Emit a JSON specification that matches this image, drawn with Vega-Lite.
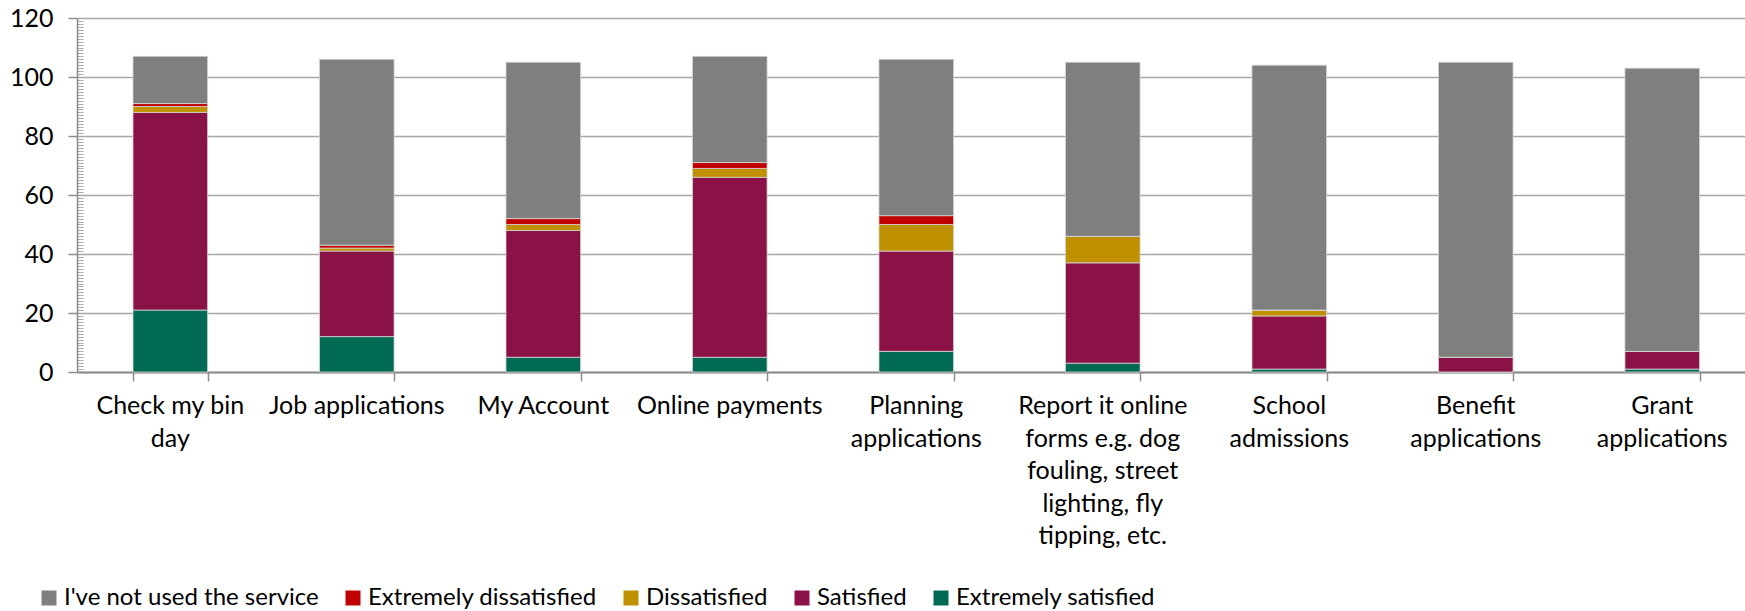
{
  "$schema": "https://vega.github.io/schema/vega-lite/v6.json",
  "width": 1668,
  "height": 354,
  "autosize": {"type": "none"},
  "padding": {"left": 77, "top": 18, "right": 0, "bottom": 239},
  "background": "white",
  "config": {
    "view": {"stroke": null},
    "font": "Lato",
    "axis": {"labelFont": "Lato", "labelColor": "#000000"},
    "legend": {"labelFont": "Lato"}
  },
  "datasets": {
    "survey": [
      {"service": "Check my bin day", "status": "Extremely satisfied", "value": 21},
      {"service": "Check my bin day", "status": "Satisfied", "value": 67},
      {"service": "Check my bin day", "status": "Dissatisfied", "value": 2},
      {"service": "Check my bin day", "status": "Extremely dissatisfied", "value": 1},
      {"service": "Check my bin day", "status": "I've not used the service", "value": 16},
      {"service": "Job applications", "status": "Extremely satisfied", "value": 12},
      {"service": "Job applications", "status": "Satisfied", "value": 29},
      {"service": "Job applications", "status": "Dissatisfied", "value": 1},
      {"service": "Job applications", "status": "Extremely dissatisfied", "value": 1},
      {"service": "Job applications", "status": "I've not used the service", "value": 63},
      {"service": "My Account", "status": "Extremely satisfied", "value": 5},
      {"service": "My Account", "status": "Satisfied", "value": 43},
      {"service": "My Account", "status": "Dissatisfied", "value": 2},
      {"service": "My Account", "status": "Extremely dissatisfied", "value": 2},
      {"service": "My Account", "status": "I've not used the service", "value": 53},
      {"service": "Online payments", "status": "Extremely satisfied", "value": 5},
      {"service": "Online payments", "status": "Satisfied", "value": 61},
      {"service": "Online payments", "status": "Dissatisfied", "value": 3},
      {"service": "Online payments", "status": "Extremely dissatisfied", "value": 2},
      {"service": "Online payments", "status": "I've not used the service", "value": 36},
      {"service": "Planning applications", "status": "Extremely satisfied", "value": 7},
      {"service": "Planning applications", "status": "Satisfied", "value": 34},
      {"service": "Planning applications", "status": "Dissatisfied", "value": 9},
      {"service": "Planning applications", "status": "Extremely dissatisfied", "value": 3},
      {"service": "Planning applications", "status": "I've not used the service", "value": 53},
      {"service": "Report it online forms e.g. dog fouling, street lighting, fly tipping, etc.", "status": "Extremely satisfied", "value": 3},
      {"service": "Report it online forms e.g. dog fouling, street lighting, fly tipping, etc.", "status": "Satisfied", "value": 34},
      {"service": "Report it online forms e.g. dog fouling, street lighting, fly tipping, etc.", "status": "Dissatisfied", "value": 9},
      {"service": "Report it online forms e.g. dog fouling, street lighting, fly tipping, etc.", "status": "Extremely dissatisfied", "value": 0},
      {"service": "Report it online forms e.g. dog fouling, street lighting, fly tipping, etc.", "status": "I've not used the service", "value": 59},
      {"service": "School admissions", "status": "Extremely satisfied", "value": 1},
      {"service": "School admissions", "status": "Satisfied", "value": 18},
      {"service": "School admissions", "status": "Dissatisfied", "value": 2},
      {"service": "School admissions", "status": "Extremely dissatisfied", "value": 0},
      {"service": "School admissions", "status": "I've not used the service", "value": 83},
      {"service": "Benefit applications", "status": "Extremely satisfied", "value": 0},
      {"service": "Benefit applications", "status": "Satisfied", "value": 5},
      {"service": "Benefit applications", "status": "Dissatisfied", "value": 0},
      {"service": "Benefit applications", "status": "Extremely dissatisfied", "value": 0},
      {"service": "Benefit applications", "status": "I've not used the service", "value": 100},
      {"service": "Grant applications", "status": "Extremely satisfied", "value": 1},
      {"service": "Grant applications", "status": "Satisfied", "value": 6},
      {"service": "Grant applications", "status": "Dissatisfied", "value": 0},
      {"service": "Grant applications", "status": "Extremely dissatisfied", "value": 0},
      {"service": "Grant applications", "status": "I've not used the service", "value": 96}
    ],
    "labels": [
      {"service": "Check my bin day", "line": 1, "text": "Check my bin"},
      {"service": "Check my bin day", "line": 2, "text": "day"},
      {"service": "Job applications", "line": 1, "text": "Job applications"},
      {"service": "My Account", "line": 1, "text": "My Account"},
      {"service": "Online payments", "line": 1, "text": "Online payments"},
      {"service": "Planning applications", "line": 1, "text": "Planning"},
      {"service": "Planning applications", "line": 2, "text": "applications"},
      {"service": "Report it online forms e.g. dog fouling, street lighting, fly tipping, etc.", "line": 1, "text": "Report it online"},
      {"service": "Report it online forms e.g. dog fouling, street lighting, fly tipping, etc.", "line": 2, "text": "forms e.g. dog"},
      {"service": "Report it online forms e.g. dog fouling, street lighting, fly tipping, etc.", "line": 3, "text": "fouling, street"},
      {"service": "Report it online forms e.g. dog fouling, street lighting, fly tipping, etc.", "line": 4, "text": "lighting, fly"},
      {"service": "Report it online forms e.g. dog fouling, street lighting, fly tipping, etc.", "line": 5, "text": "tipping, etc."},
      {"service": "School admissions", "line": 1, "text": "School"},
      {"service": "School admissions", "line": 2, "text": "admissions"},
      {"service": "Benefit applications", "line": 1, "text": "Benefit"},
      {"service": "Benefit applications", "line": 2, "text": "applications"},
      {"service": "Grant applications", "line": 1, "text": "Grant"},
      {"service": "Grant applications", "line": 2, "text": "applications"}
    ]
  },
  "layer": [
    {
      "data": {"name": "survey"},
      "transform": [
        {"calculate": "indexof(['Extremely satisfied','Satisfied','Dissatisfied','Extremely dissatisfied',\"I've not used the service\"], datum.status)", "as": "stackOrder"}
      ],
      "mark": {"type": "bar", "stroke": "#d4d4d4", "strokeWidth": 0.8},
      "encoding": {
        "x": {"field": "service", "type": "nominal", "sort": null,
              "scale": {"domain": ["Check my bin day", "Job applications", "My Account", "Online payments", "Planning applications", "Report it online forms e.g. dog fouling, street lighting, fly tipping, etc.", "School admissions", "Benefit applications", "Grant applications"],
                        "paddingInner": 0.6, "paddingOuter": 0.272, "align": 0.552},
              "axis": {"title": null, "labels": false, "tickBand": "extent", "tickSize": 9, "tickColor": "#8c8c8c",
                       "tickWidth": 1.5, "domainColor": "#8c8c8c", "domainWidth": 2}},
        "y": {"field": "value", "type": "quantitative", "stack": "zero",
              "scale": {"domain": [0, 120], "nice": false},
              "axis": {"values": [0,1,2,3,4,5,6,7,8,9,10,11,12,13,14,15,16,17,18,19,20,21,22,23,24,25,26,27,28,29,30,31,32,33,34,35,36,37,38,39,40,41,42,43,44,45,46,47,48,49,50,51,52,53,54,55,56,57,58,59,60,61,62,63,64,65,66,67,68,69,70,71,72,73,74,75,76,77,78,79,80,81,82,83,84,85,86,87,88,89,90,91,92,93,94,95,96,97,98,99,100,101,102,103,104,105,106,107,108,109,110,111,112,113,114,115,116,117,118,119,120],
                       "title": null, "grid": true, "labelOverlap": false,
                       "gridColor": "#a6a6a6", "gridWidth": 1.5,
                       "gridOpacity": {"expr": "datum.value % 20 === 0 ? 1 : 0"},
                       "domainColor": "#8c8c8c", "domainWidth": 1.5,
                       "tickSize": {"expr": "datum.value % 20 === 0 ? 9 : -6"},
                       "tickColor": {"expr": "datum.value % 20 === 0 ? '#8c8c8c' : '#a8a8a8'"},
                       "tickWidth": {"expr": "datum.value % 20 === 0 ? 1.5 : 1"},
                       "labelExpr": "datum.value % 20 === 0 ? datum.label : ''",
                       "labelFontSize": 25, "labelPadding": 15}},
        "color": {"field": "status", "type": "nominal",
                  "scale": {"domain": ["I've not used the service", "Extremely dissatisfied", "Dissatisfied", "Satisfied", "Extremely satisfied"],
                            "range": ["#7f7f7f", "#c00000", "#bf9000", "#8b1246", "#006a54"]},
                  "legend": {"title": null, "orient": "none", "legendX": -40, "legendY": 568,
                             "direction": "horizontal", "columns": 5, "symbolType": "square",
                             "symbolSize": 225, "symbolStrokeWidth": 0, "labelFontSize": 24,
                             "labelOffset": 3, "columnPadding": 22, "labelLimit": 0, "padding": 0,
                             "labelColor": "#000000"}},
        "order": {"field": "stackOrder", "type": "quantitative"}
      }
    },
    {
      "data": {"name": "labels"},
      "transform": [{"filter": "datum.line == 1"}],
      "mark": {"type": "text", "font": "Lato", "fontSize": 25, "color": "#000000", "baseline": "alphabetic", "align": "center", "dy": 42, "clip": false},
      "encoding": {
        "x": {"field": "service", "type": "nominal", "sort": null},
        "y": {"datum": 0, "type": "quantitative",
              "axis": {"values": [0,1,2,3,4,5,6,7,8,9,10,11,12,13,14,15,16,17,18,19,20,21,22,23,24,25,26,27,28,29,30,31,32,33,34,35,36,37,38,39,40,41,42,43,44,45,46,47,48,49,50,51,52,53,54,55,56,57,58,59,60,61,62,63,64,65,66,67,68,69,70,71,72,73,74,75,76,77,78,79,80,81,82,83,84,85,86,87,88,89,90,91,92,93,94,95,96,97,98,99,100,101,102,103,104,105,106,107,108,109,110,111,112,113,114,115,116,117,118,119,120],
                       "title": null, "grid": true, "labelOverlap": false,
                       "gridColor": "#a6a6a6", "gridWidth": 1.5,
                       "gridOpacity": {"expr": "datum.value % 20 === 0 ? 1 : 0"},
                       "domainColor": "#8c8c8c", "domainWidth": 1.5,
                       "tickSize": {"expr": "datum.value % 20 === 0 ? 9 : -6"},
                       "tickColor": {"expr": "datum.value % 20 === 0 ? '#8c8c8c' : '#a8a8a8'"},
                       "tickWidth": {"expr": "datum.value % 20 === 0 ? 1.5 : 1"},
                       "labelExpr": "datum.value % 20 === 0 ? datum.label : ''",
                       "labelFontSize": 25, "labelPadding": 15}},
        "text": {"field": "text", "type": "nominal"}
      }
    },
    {
      "data": {"name": "labels"},
      "transform": [{"filter": "datum.line == 2"}],
      "mark": {"type": "text", "font": "Lato", "fontSize": 25, "color": "#000000", "baseline": "alphabetic", "align": "center", "dy": 74.5, "clip": false},
      "encoding": {
        "x": {"field": "service", "type": "nominal", "sort": null},
        "y": {"datum": 0, "type": "quantitative",
              "axis": {"values": [0,1,2,3,4,5,6,7,8,9,10,11,12,13,14,15,16,17,18,19,20,21,22,23,24,25,26,27,28,29,30,31,32,33,34,35,36,37,38,39,40,41,42,43,44,45,46,47,48,49,50,51,52,53,54,55,56,57,58,59,60,61,62,63,64,65,66,67,68,69,70,71,72,73,74,75,76,77,78,79,80,81,82,83,84,85,86,87,88,89,90,91,92,93,94,95,96,97,98,99,100,101,102,103,104,105,106,107,108,109,110,111,112,113,114,115,116,117,118,119,120],
                       "title": null, "grid": true, "labelOverlap": false,
                       "gridColor": "#a6a6a6", "gridWidth": 1.5,
                       "gridOpacity": {"expr": "datum.value % 20 === 0 ? 1 : 0"},
                       "domainColor": "#8c8c8c", "domainWidth": 1.5,
                       "tickSize": {"expr": "datum.value % 20 === 0 ? 9 : -6"},
                       "tickColor": {"expr": "datum.value % 20 === 0 ? '#8c8c8c' : '#a8a8a8'"},
                       "tickWidth": {"expr": "datum.value % 20 === 0 ? 1.5 : 1"},
                       "labelExpr": "datum.value % 20 === 0 ? datum.label : ''",
                       "labelFontSize": 25, "labelPadding": 15}},
        "text": {"field": "text", "type": "nominal"}
      }
    },
    {
      "data": {"name": "labels"},
      "transform": [{"filter": "datum.line == 3"}],
      "mark": {"type": "text", "font": "Lato", "fontSize": 25, "color": "#000000", "baseline": "alphabetic", "align": "center", "dy": 107, "clip": false},
      "encoding": {
        "x": {"field": "service", "type": "nominal", "sort": null},
        "y": {"datum": 0, "type": "quantitative",
              "axis": {"values": [0,1,2,3,4,5,6,7,8,9,10,11,12,13,14,15,16,17,18,19,20,21,22,23,24,25,26,27,28,29,30,31,32,33,34,35,36,37,38,39,40,41,42,43,44,45,46,47,48,49,50,51,52,53,54,55,56,57,58,59,60,61,62,63,64,65,66,67,68,69,70,71,72,73,74,75,76,77,78,79,80,81,82,83,84,85,86,87,88,89,90,91,92,93,94,95,96,97,98,99,100,101,102,103,104,105,106,107,108,109,110,111,112,113,114,115,116,117,118,119,120],
                       "title": null, "grid": true, "labelOverlap": false,
                       "gridColor": "#a6a6a6", "gridWidth": 1.5,
                       "gridOpacity": {"expr": "datum.value % 20 === 0 ? 1 : 0"},
                       "domainColor": "#8c8c8c", "domainWidth": 1.5,
                       "tickSize": {"expr": "datum.value % 20 === 0 ? 9 : -6"},
                       "tickColor": {"expr": "datum.value % 20 === 0 ? '#8c8c8c' : '#a8a8a8'"},
                       "tickWidth": {"expr": "datum.value % 20 === 0 ? 1.5 : 1"},
                       "labelExpr": "datum.value % 20 === 0 ? datum.label : ''",
                       "labelFontSize": 25, "labelPadding": 15}},
        "text": {"field": "text", "type": "nominal"}
      }
    },
    {
      "data": {"name": "labels"},
      "transform": [{"filter": "datum.line == 4"}],
      "mark": {"type": "text", "font": "Lato", "fontSize": 25, "color": "#000000", "baseline": "alphabetic", "align": "center", "dy": 139.5, "clip": false},
      "encoding": {
        "x": {"field": "service", "type": "nominal", "sort": null},
        "y": {"datum": 0, "type": "quantitative",
              "axis": {"values": [0,1,2,3,4,5,6,7,8,9,10,11,12,13,14,15,16,17,18,19,20,21,22,23,24,25,26,27,28,29,30,31,32,33,34,35,36,37,38,39,40,41,42,43,44,45,46,47,48,49,50,51,52,53,54,55,56,57,58,59,60,61,62,63,64,65,66,67,68,69,70,71,72,73,74,75,76,77,78,79,80,81,82,83,84,85,86,87,88,89,90,91,92,93,94,95,96,97,98,99,100,101,102,103,104,105,106,107,108,109,110,111,112,113,114,115,116,117,118,119,120],
                       "title": null, "grid": true, "labelOverlap": false,
                       "gridColor": "#a6a6a6", "gridWidth": 1.5,
                       "gridOpacity": {"expr": "datum.value % 20 === 0 ? 1 : 0"},
                       "domainColor": "#8c8c8c", "domainWidth": 1.5,
                       "tickSize": {"expr": "datum.value % 20 === 0 ? 9 : -6"},
                       "tickColor": {"expr": "datum.value % 20 === 0 ? '#8c8c8c' : '#a8a8a8'"},
                       "tickWidth": {"expr": "datum.value % 20 === 0 ? 1.5 : 1"},
                       "labelExpr": "datum.value % 20 === 0 ? datum.label : ''",
                       "labelFontSize": 25, "labelPadding": 15}},
        "text": {"field": "text", "type": "nominal"}
      }
    },
    {
      "data": {"name": "labels"},
      "transform": [{"filter": "datum.line == 5"}],
      "mark": {"type": "text", "font": "Lato", "fontSize": 25, "color": "#000000", "baseline": "alphabetic", "align": "center", "dy": 172, "clip": false},
      "encoding": {
        "x": {"field": "service", "type": "nominal", "sort": null},
        "y": {"datum": 0, "type": "quantitative",
              "axis": {"values": [0,1,2,3,4,5,6,7,8,9,10,11,12,13,14,15,16,17,18,19,20,21,22,23,24,25,26,27,28,29,30,31,32,33,34,35,36,37,38,39,40,41,42,43,44,45,46,47,48,49,50,51,52,53,54,55,56,57,58,59,60,61,62,63,64,65,66,67,68,69,70,71,72,73,74,75,76,77,78,79,80,81,82,83,84,85,86,87,88,89,90,91,92,93,94,95,96,97,98,99,100,101,102,103,104,105,106,107,108,109,110,111,112,113,114,115,116,117,118,119,120],
                       "title": null, "grid": true, "labelOverlap": false,
                       "gridColor": "#a6a6a6", "gridWidth": 1.5,
                       "gridOpacity": {"expr": "datum.value % 20 === 0 ? 1 : 0"},
                       "domainColor": "#8c8c8c", "domainWidth": 1.5,
                       "tickSize": {"expr": "datum.value % 20 === 0 ? 9 : -6"},
                       "tickColor": {"expr": "datum.value % 20 === 0 ? '#8c8c8c' : '#a8a8a8'"},
                       "tickWidth": {"expr": "datum.value % 20 === 0 ? 1.5 : 1"},
                       "labelExpr": "datum.value % 20 === 0 ? datum.label : ''",
                       "labelFontSize": 25, "labelPadding": 15}},
        "text": {"field": "text", "type": "nominal"}
      }
    }
  ]
}
